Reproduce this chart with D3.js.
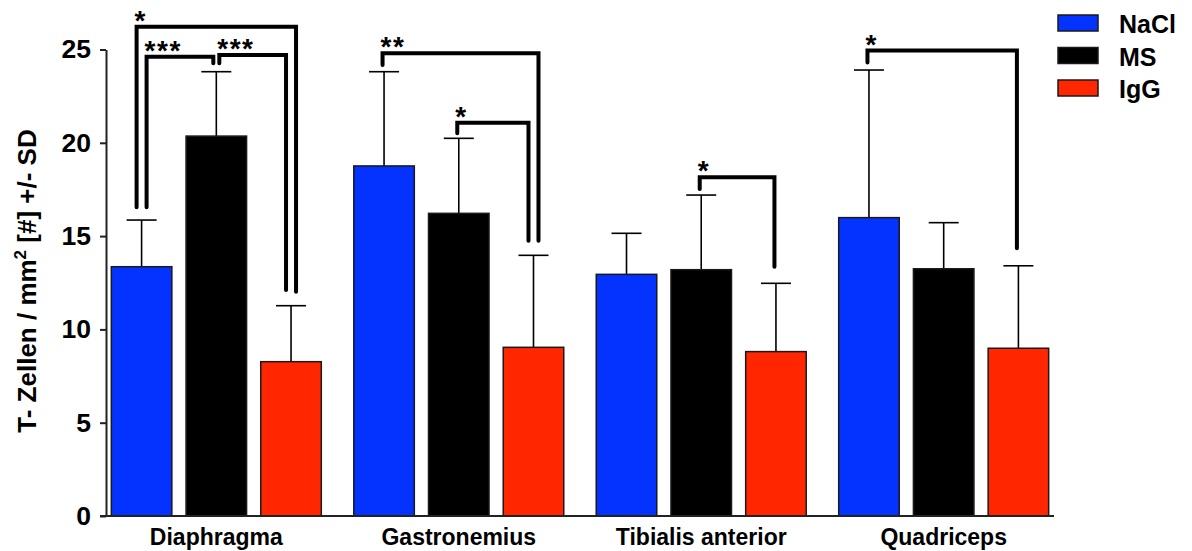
<!DOCTYPE html>
<html>
<head>
<meta charset="utf-8">
<script src="https://cdn.jsdelivr.net/npm/d3@7"></script>
<style>
  body { margin: 0; background: #fff; }
  text { font-family: "Liberation Sans", Arial, Helvetica, sans-serif; font-weight: bold; fill: #000; }
</style>
</head>
<body>
<svg id="chart" width="1192" height="551"></svg>
<script>
// Values (T cells per mm2, mean and SD).
var categories = ["Diaphragma", "Gastronemius", "Tibialis anterior", "Quadriceps"];
var seriesNames = ["NaCl", "MS", "IgG"];
var seriesColors = ["#0433ff", "#000000", "#ff2600"];
var naclMean = [13.36, 18.76, 12.95, 15.99];
var naclSD = [2.5, 5.05, 2.2, 7.91];
var msMean = [20.36, 16.22, 13.2, 13.25];
var msSD = [3.45, 4.02, 4.0, 2.47];
var iggMean = [8.27, 9.04, 8.81, 8.99];
var iggSD = [3.0, 4.93, 3.66, 4.42];
var yTicks = [0, 5, 10, 15, 20, 25];

// Significance brackets: group, from series, to series, label, bar height, leg ends.
var sigGroup = [0, 0, 0, 1, 1, 2, 3];
var sigFrom = [0, 0, 1, 0, 1, 1, 0];
var sigTo = [2, 1, 2, 2, 2, 2, 2];
var sigLabel = ["*", "***", "***", "**", "*", "*", "*"];
var sigTop = [26.22, 24.61, 24.7, 24.8, 21.08, 18.15, 24.94];
var sigFromEnd = [16.54, 16.54, 24.26, 24.17, 20.51, 17.52, 24.3];
var sigToEnd = [12.02, 24.26, 12.11, 14.75, 14.75, 13.36, 14.35];

var means = [naclMean, msMean, iggMean];
var sds = [naclSD, msSD, iggSD];

var svg = d3.select("#chart");

var y = d3.scaleLinear().domain([0, 25]).range([516, 49.5]);
var x0 = d3.scaleBand().domain(categories).range([106, 1054]).paddingInner(0.134).paddingOuter(0.022);
var x1 = d3.scaleBand().domain(d3.range(seriesNames.length)).range([0, x0.bandwidth()]).paddingInner(0.19);

// Bars
var groups = svg.selectAll("g.group")
  .data(categories)
  .enter().append("g")
  .attr("class", "group")
  .attr("transform", function(d) { return "translate(" + x0(d) + ",0)"; });

groups.each(function(cat, ci) {
  var g = d3.select(this);
  for (var s = 0; s < seriesNames.length; s++) {
    var m = means[s][ci];
    var cx = x1(s) + x1.bandwidth() / 2;
    // error bar (upper only)
    g.append("line")
      .attr("x1", cx).attr("x2", cx)
      .attr("y1", y(m)).attr("y2", y(m + sds[s][ci]))
      .attr("stroke", "#000").attr("stroke-width", 1.6);
    g.append("line")
      .attr("x1", cx - 15).attr("x2", cx + 15)
      .attr("y1", y(m + sds[s][ci])).attr("y2", y(m + sds[s][ci]))
      .attr("stroke", "#000").attr("stroke-width", 1.6);
    g.append("rect")
      .attr("x", x1(s))
      .attr("y", y(m))
      .attr("width", x1.bandwidth())
      .attr("height", y(0) - y(m))
      .attr("fill", seriesColors[s])
      .attr("stroke", "#1a1a1a")
      .attr("stroke-width", 1.5);
  }
});

// Axes
var yAxis = svg.append("g")
  .attr("transform", "translate(106,0)")
  .call(d3.axisLeft(y).tickValues(yTicks).tickSize(6).tickSizeOuter(0).tickPadding(9));
yAxis.select(".domain").attr("stroke", "#222").attr("stroke-width", 2);
yAxis.selectAll(".tick line").attr("stroke", "#222").attr("stroke-width", 2);
yAxis.selectAll(".tick text").style("font-size", "26.5px").attr("fill", "#000");

var xAxis = svg.append("g")
  .attr("transform", "translate(0,516)")
  .call(d3.axisBottom(x0).tickSize(0).tickPadding(13));
xAxis.select(".domain").remove();
xAxis.selectAll(".tick text").style("font-size", "23px").attr("fill", "#000");
svg.append("line")
  .attr("x1", x0.range()[0] - 6).attr("x2", x0.range()[1])
  .attr("y1", y(0)).attr("y2", y(0))
  .attr("stroke", "#222").attr("stroke-width", 2);

// Y axis title
svg.append("text")
  .attr("transform", "translate(36,281) rotate(-90)")
  .attr("text-anchor", "middle")
  .style("font-size", "26px")
  .html('T- Zellen / mm<tspan dy="-10" style="font-size:17px">2</tspan><tspan dy="10"> [#] +/- SD</tspan>');

// Leg offset: nested brackets sharing a bar are moved apart
function legOffset(i, end) {
  var grp = sigGroup[i];
  var s = end === "from" ? sigFrom[i] : sigTo[i];
  var width = sigTo[i] - sigFrom[i];
  var sharing = 0, wider = false, otherSide = false;
  for (var j = 0; j < sigGroup.length; j++) {
    if (j === i || sigGroup[j] !== grp) continue;
    if (sigFrom[j] === s || sigTo[j] === s) {
      sharing++;
      if ((end === "from" && sigTo[j] === s) || (end === "to" && sigFrom[j] === s)) otherSide = true;
      if (width > sigTo[j] - sigFrom[j]) wider = true;
    }
  }
  if (sharing === 0) return -1.5;
  if (otherSide) return end === "from" ? 3 : -3;
  if (end === "from") return wider ? -5 : 5;
  return wider ? 5 : -5;
}

for (var i = 0; i < sigGroup.length; i++) {
  var gx = x0(categories[sigGroup[i]]);
  var xa = gx + x1(sigFrom[i]) + x1.bandwidth() / 2 + legOffset(i, "from");
  var xb = gx + x1(sigTo[i]) + x1.bandwidth() / 2 + legOffset(i, "to");
  var path = d3.path();
  path.moveTo(xa, y(sigFromEnd[i]));
  path.lineTo(xa, y(sigTop[i]));
  path.lineTo(xb, y(sigTop[i]));
  path.lineTo(xb, y(sigToEnd[i]));
  svg.append("path")
    .attr("d", path.toString())
    .attr("fill", "none")
    .attr("stroke", "#000")
    .attr("stroke-width", 4)
    .attr("stroke-linecap", "round");
  svg.append("text")
    .attr("x", xa - 2)
    .attr("y", y(sigTop[i]) + 3)
    .style("font-size", "28px")
    .style("letter-spacing", "1.5px")
    .text(sigLabel[i]);
}

// Legend
var legend = svg.selectAll("g.legend")
  .data(seriesNames)
  .enter().append("g")
  .attr("class", "legend")
  .attr("transform", function(d, i) { return "translate(1058," + (15 + i * 32.5) + ")"; });
legend.append("rect")
  .attr("width", 40).attr("height", 16)
  .attr("fill", function(d, i) { return seriesColors[i]; })
  .attr("stroke", "#1a1a1a").attr("stroke-width", 1.5);
legend.append("text")
  .attr("x", 61).attr("y", 18)
  .style("font-size", "25px")
  .text(function(d) { return d; });
</script>
</body>
</html>
